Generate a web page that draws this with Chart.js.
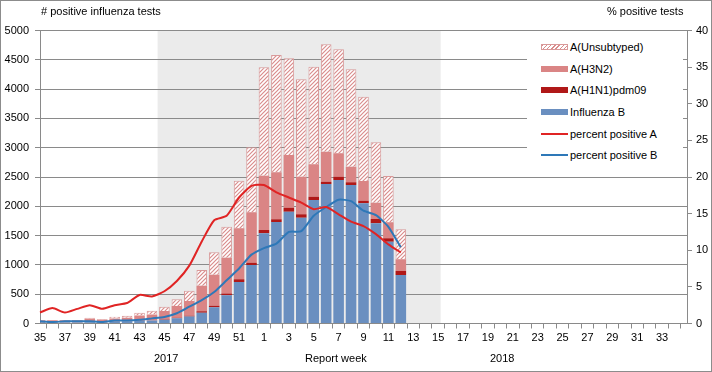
<!DOCTYPE html>
<html>
<head>
<meta charset="utf-8">
<script src="https://cdn.jsdelivr.net/npm/chart.js@4.4.1/dist/chart.umd.min.js"></script>
<style>
html, body { margin: 0; padding: 0; background: #fff; }
#wrap { position: relative; width: 712px; height: 372px; font-family: "Liberation Sans", Arial, sans-serif; font-size: 11px; color: #000; overflow: hidden; }
#chart { position: absolute; left: 0; top: 0; }
#frame { position: absolute; left: 0; top: 0; width: 712px; height: 372px; box-sizing: border-box; border: 1px solid #8c8c8c; pointer-events: none; }
.txt { position: absolute; white-space: nowrap; line-height: 13px; }
#legend { position: absolute; left: 527px; top: 34px; width: 156px; height: 134px; background: #fff; }
.row { position: absolute; left: 14px; height: 14px; display: flex; align-items: center; white-space: nowrap; }
.sw { width: 27px; height: 6px; margin-right: 2px; box-sizing: border-box; }
.ln { width: 27px; height: 2px; margin-right: 2px; }
</style>
</head>
<body>
<div id="wrap">
  <canvas id="chart" width="712" height="372"></canvas>
  <div class="txt" style="left:41px; top:5px;"># positive influenza tests</div>
  <div class="txt" style="left:607px; top:5px;">% positive tests</div>
  <div class="txt" style="left:305px; top:352px;">Report week</div>
  <div class="txt" style="left:154px; top:352px;">2017</div>
  <div class="txt" style="left:490px; top:352px;">2018</div>
  <div id="legend">
    <div class="row" style="top:6px;"><div class="sw" style="border:1px solid #d99a9a; background:repeating-linear-gradient(135deg, #d98c8c 0 1px, #fff 1px 3px);"></div>A(Unsubtyped)</div>
    <div class="row" style="top:28px;"><div class="sw" style="background:#da8585;"></div>A(H3N2)</div>
    <div class="row" style="top:49px;"><div class="sw" style="background:#b01818;"></div>A(H1N1)pdm09</div>
    <div class="row" style="top:71px;"><div class="sw" style="background:#6a8fc0;"></div>Influenza B</div>
    <div class="row" style="top:93px;"><div class="ln" style="background:#e02424;"></div>percent positive A</div>
    <div class="row" style="top:114px;"><div class="ln" style="background:#2e78b8;"></div>percent positive B</div>
  </div>
  <div id="frame"></div>
</div>
<script>
// report weeks 2017/2018 (last slot is an empty spacer at the right edge)
const weeks = ['35','36','37','38','39','40','41','42','43','44','45','46','47','48','49','50','51','52',
  '1','2','3','4','5','6','7','8','9','10','11','12','13','14','15','16','17','18','19','20',
  '21','22','23','24','25','26','27','28','29','30','31','32','33','34',''];

// weekly counts per type, weeks 35 .. 12
const fluB = [18,15,15,15,20,15,35,40,45,50,65,88,120,185,276,481,708,998,
  1539,1732,1908,1805,2108,2381,2449,2363,2051,1710,1396,828];
const h1n1 = [2,2,2,2,3,2,4,4,5,5,8,10,12,25,25,30,46,40,
  57,46,68,58,56,39,56,47,45,73,58,68];
const h3n2 = [35,38,38,38,62,50,48,55,85,100,140,200,252,435,532,612,870,860,
  926,802,899,642,553,512,399,266,336,278,273,200];
const unsub = [5,5,5,5,15,10,30,35,50,64,74,115,176,268,382,529,813,1109,
  1850,2002,1650,1662,1665,1832,1775,1662,1438,1031,790,511];

// percent positive
const pctA = [1.5,2.1,1.5,2.0,2.5,2.0,2.5,2.8,3.9,3.7,4.4,5.8,7.9,11.2,14.1,14.7,17.2,18.8,
  18.9,17.9,17.2,16.5,15.6,15.9,14.9,13.9,13.3,12.2,10.8,9.7];
const pctB = [0.3,0.2,0.3,0.3,0.3,0.2,0.4,0.4,0.5,0.7,0.9,1.4,2.3,3.2,4.3,5.9,7.5,9.4,
  10.3,10.9,12.5,12.6,14.7,15.9,16.9,16.7,15.4,14.8,13.2,10.4];

// shaded season band (category index range)
const shadeFrom = 9.45;
const shadeTo = 32.2;

// hatch pattern for unsubtyped
function makeHatch() {
    const c = document.createElement('canvas');
    c.width = 4; c.height = 4;
    const g = c.getContext('2d');
    g.fillStyle = '#fff';
    g.fillRect(0, 0, 4, 4);
    g.strokeStyle = '#d98c8c';
    g.lineWidth = 1.2;
    g.beginPath();
    g.moveTo(0, 4); g.lineTo(4, 0);
    g.moveTo(-1, 1); g.lineTo(1, -1);
    g.moveTo(3, 5); g.lineTo(5, 3);
    g.stroke();
    return g.createPattern(c, 'repeat');
}

const shadeBand = {
    id: 'shadeBand',
    beforeDraw(chart) {
        const { ctx, chartArea: a, scales: { x } } = chart;
        const x0 = x.getPixelForValue(shadeFrom);
        const x1 = x.getPixelForValue(shadeTo);
        ctx.save();
        ctx.fillStyle = '#ebebeb';
        ctx.fillRect(x0, a.top, x1 - x0, a.bottom - a.top);
        ctx.restore();
    }
};

const gridCol = '#8a8a8a';
const tickFont = { family: '"Liberation Sans", Arial, sans-serif', size: 11 };

let ctx = document.getElementById('chart').getContext('2d');
let myChart = new Chart(ctx, {
    type: 'bar',
    data: {
        labels: weeks,
        datasets: [
            { type: 'line', label: 'percent positive A', data: pctA, yAxisID: 'y2', order: 0,
              borderColor: '#e02424', borderWidth: 2, pointRadius: 0, tension: 0.2, fill: false },
            { type: 'line', label: 'percent positive B', data: pctB, yAxisID: 'y2', order: 0,
              borderColor: '#2e78b8', borderWidth: 2, pointRadius: 0, tension: 0.2, fill: false },
            { label: 'Influenza B', data: fluB, backgroundColor: '#6a8fc0', order: 1 },
            { label: 'A(H1N1)pdm09', data: h1n1, backgroundColor: '#b01818', order: 1 },
            { label: 'A(H3N2)', data: h3n2, backgroundColor: '#da8585', order: 1 },
            { label: 'A(Unsubtyped)', data: unsub, backgroundColor: makeHatch(), order: 1,
              borderColor: '#d99a9a', borderWidth: 1 }
        ]
    },
    options: {
        responsive: false,
        animation: false,
        layout: { padding: { top: 30.5, left: 0, right: 0, bottom: 0 } },
        datasets: { bar: { barPercentage: 0.85, categoryPercentage: 1 } },
        plugins: { legend: { display: false }, tooltip: { enabled: false } },
        scales: {
            x: {
                stacked: true,
                offset: false,
                grid: { drawOnChartArea: false, drawTicks: true, tickLength: 5, color: gridCol },
                border: { color: gridCol },
                ticks: {
                    autoSkip: false, maxRotation: 0, padding: 3, color: '#000', font: tickFont,
                    callback: (v, i) => (i % 2 === 0 ? weeks[i] : '')
                },
                afterFit: (s) => { s.height = 48.5; }
            },
            y: {
                stacked: true,
                position: 'left',
                min: 0, max: 5000,
                grid: { color: gridCol, tickLength: 5 },
                border: { color: gridCol },
                ticks: { stepSize: 500, padding: 6, color: '#000', font: tickFont, callback: (v) => String(v) },
                afterFit: (s) => { s.width = 40; }
            },
            y2: {
                position: 'right',
                min: 0, max: 40,
                grid: { drawOnChartArea: false, tickLength: 5, color: gridCol },
                border: { color: gridCol },
                ticks: { stepSize: 5, padding: 4, color: '#000', font: tickFont, callback: (v) => String(v) },
                afterFit: (s) => { s.width = 25; }
            }
        }
    },
    plugins: [shadeBand]
});
</script>
</body>
</html>
